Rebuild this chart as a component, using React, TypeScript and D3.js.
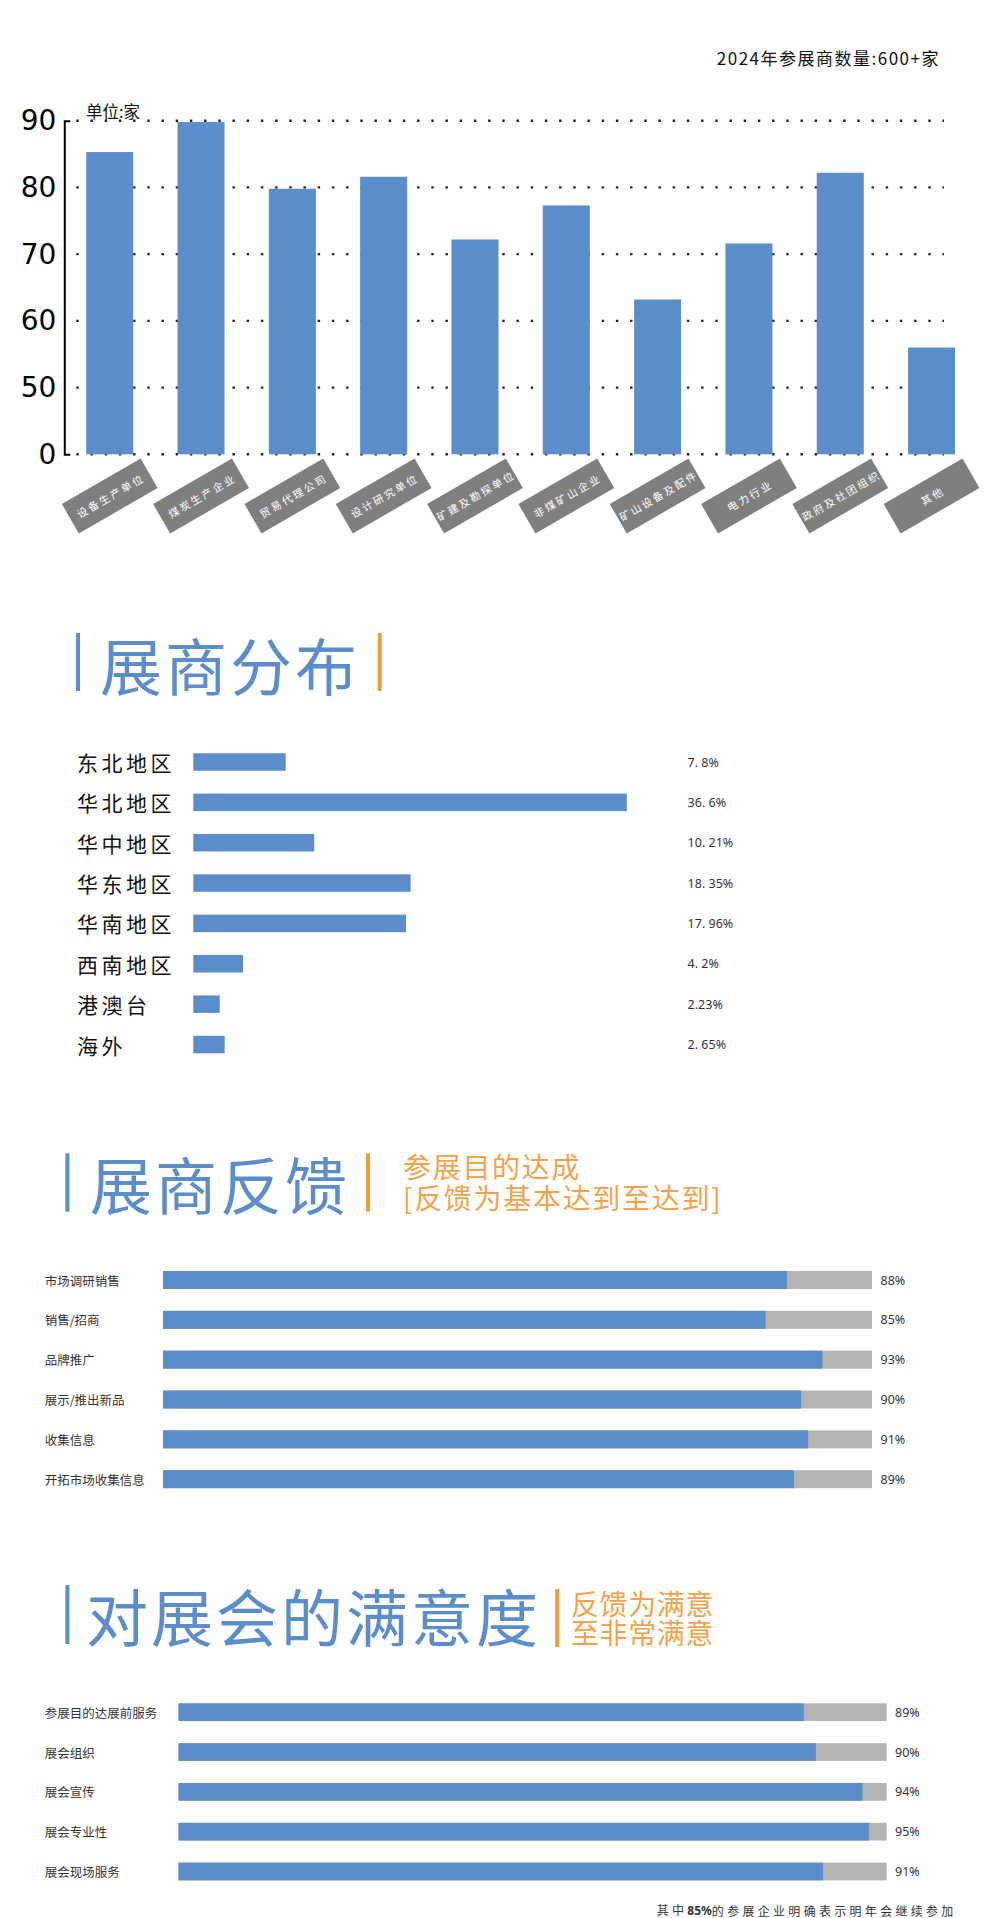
import React, { useEffect, useRef } from 'react';
import * as d3 from 'd3';

// ---------- data ----------
const industryCategories = ['设备生产单位', '煤炭生产企业', '贸易代理公司', '设计研究单位', '矿建及勘探单位', '非煤矿山企业', '矿山设备及配件', '电力行业', '政府及社团组织', '其他'];
const industryValues = [85.3, 89.8, 79.8, 81.6, 72.2, 77.3, 63.2, 71.6, 82.2, 56];
const yTickValues = [40, 50, 60, 70, 80, 90];
const yTickLabels = ['0', '50', '60', '70', '80', '90'];

const regionCategories = ['东北地区', '华北地区', '华中地区', '华东地区', '华南地区', '西南地区', '港澳台', '海外'];
const regionValues = [7.8, 36.6, 10.21, 18.35, 17.96, 4.2, 2.23, 2.65];
const regionLabels = ['7. 8%', '36. 6%', '10. 21%', '18. 35%', '17. 96%', '4. 2%', '2.23%', '2. 65%'];

const feedbackCategories = ['市场调研销售', '销售/招商', '品牌推广', '展示/推出新品', '收集信息', '开拓市场收集信息'];
const feedbackValues = [88, 85, 93, 90, 91, 89];
const feedbackLabels = ['88%', '85%', '93%', '90%', '91%', '89%'];

const satisfactionCategories = ['参展目的达展前服务', '展会组织', '展会宣传', '展会专业性', '展会现场服务'];
const satisfactionValues = [88.3, 90, 96.6, 97.5, 91];
const satisfactionLabels = ['89%', '90%', '94%', '95%', '91%'];

// ---------- style ----------
const BLUE = '#5b8dca';
const GRAY = '#b3b3b3';
const LABEL_GRAY = '#7f7f7f';
const ORANGE = '#f39a3b';
const ORANGE_TEXT = '#f4a249';
const CJK = '"Noto Sans CJK SC", "Noto Sans", sans-serif';

const W = 1001;
const H = 1918;

function SectionTitle({ barX, barY0, barY1, text, textX, cy, orangeX, orangeY0, orangeY1 }: any) {
  return (
    <g>
      <line x1={barX} x2={barX} y1={barY0} y2={barY1} stroke={BLUE} strokeWidth={4} />
      <text x={textX} y={cy} fill={BLUE} fontFamily={CJK} fontSize={62} letterSpacing={3} dominantBaseline="central">{text}</text>
      <line x1={orangeX} x2={orangeX} y1={orangeY0} y2={orangeY1} stroke={ORANGE} strokeWidth={4} />
    </g>
  );
}

function Subtitle({ x, y, lines, gap, spacing }: any) {
  return (
    <text x={x} y={y} fontFamily={CJK} fontSize={28} letterSpacing={spacing} fill={ORANGE_TEXT} dominantBaseline="central">
      {lines.map((l: string, i: number) => (
        <tspan key={i} x={x} dy={i === 0 ? 0 : gap}>{l}</tspan>
      ))}
    </text>
  );
}

function PercentBars({ cats, vals, labels, x0, x1, yTop, yBottom, barH, labelX, pctX }: any) {
  const x = d3.scaleLinear().domain([0, 100]).range([x0, x1]);
  const y = d3.scalePoint<string>().domain(cats).range([yTop, yBottom]);
  return (
    <g>
      {cats.map((c: string, i: number) => {
        const cy = y(c) as number;
        return (
          <g key={c}>
            <text x={labelX} y={cy} fontFamily={CJK} fontSize={12.5} fill="#333" dominantBaseline="central">{c}</text>
            <rect x={x(0)} y={cy - barH / 2} width={x(100) - x(0)} height={barH} fill={GRAY} />
            <rect x={x(0)} y={cy - barH / 2} width={x(vals[i]) - x(0)} height={barH} fill={BLUE} />
            <text x={pctX} y={cy} fontFamily='"Noto Sans", sans-serif' fontSize={12.5} fill="#333" dominantBaseline="central">{labels[i]}</text>
          </g>
        );
      })}
    </g>
  );
}

export default function App() {
  const axisRef = useRef<SVGGElement>(null);

  // column chart scales
  const xBand = d3.scaleBand<string>().domain(industryCategories).range([64.3, 977]).paddingInner(0.485).paddingOuter(0.24);
  const yLin = d3.scaleLinear().domain([40, 90]).range([454.3, 120.7]);

  // region chart scales
  const xReg = d3.scaleLinear().domain([0, 40]).range([193.3, 667.1]);
  const yReg = d3.scalePoint<string>().domain(regionCategories).range([762, 1044.5]);

  useEffect(() => {
    if (!axisRef.current) return;
    const g = d3.select(axisRef.current);
    g.selectAll('*').remove();
    const axis = d3
      .axisLeft(yLin)
      .tickValues(yTickValues)
      .tickFormat((d, i) => yTickLabels[i])
      .tickSizeInner(0)
      .tickSizeOuter(-6)
      .tickPadding(8);
    g.call(axis as any);
    g.select('.domain').attr('stroke', '#000').attr('stroke-width', 2);
    g.selectAll('.tick text')
      .attr('font-family', '"DejaVu Sans", sans-serif')
      .attr('font-size', 28)
      .attr('fill', '#000');
  }, []);

  return (
    <svg width={W} height={H} viewBox={`0 0 ${W} ${H}`} style={{ position: 'absolute', left: 0, top: 0, display: 'block', background: '#fff' }}>
      <rect x={0} y={0} width={W} height={H} fill="#fff" />

      {/* ---- column chart ---- */}
      <text x={940} y={57} textAnchor="end" fontFamily={CJK} fontSize={17} letterSpacing={1.5} fill="#111" dominantBaseline="central">2024年参展商数量:600+家</text>
      <text x={86} y={110.5} fontFamily={CJK} fontSize={16.5} fill="#111" dominantBaseline="central">单位:家</text>

      {yTickValues.map((v) => (
        <line key={v} x1={76.3} x2={944} y1={yLin(v)} y2={yLin(v)} stroke="#222" strokeWidth={2.4} strokeDasharray="2.4 11.8" />
      ))}

      {industryCategories.map((c, i) => (
        <rect key={c} x={xBand(c)} y={yLin(industryValues[i])} width={xBand.bandwidth()} height={yLin(40) - yLin(industryValues[i])} fill={BLUE} />
      ))}

      <g ref={axisRef} transform="translate(64.3,0)" />

      {industryCategories.map((c) => {
        const cx = (xBand(c) as number) + xBand.bandwidth() / 2;
        return (
          <g key={c} transform={`translate(${cx},496) rotate(-30)`}>
            <rect x={-45.5} y={-17} width={91} height={34} fill={LABEL_GRAY} />
            <text x={1} y={0} textAnchor="middle" dominantBaseline="central" fontFamily={CJK} fontSize={10.5} letterSpacing={2.2} fill="#fff">{c}</text>
          </g>
        );
      })}

      {/* ---- section: 展商分布 ---- */}
      <SectionTitle barX={78} barY0={633} barY1={691} text="展商分布" textX={100} cy={664.2} orangeX={379.7} orangeY0={633} orangeY1={691} />

      {regionCategories.map((c, i) => {
        const cy = yReg(c) as number;
        return (
          <g key={c}>
            <text x={77} y={cy} fontFamily={CJK} fontSize={21} letterSpacing={3.5} fill="#111" dominantBaseline="central">{c}</text>
            <rect x={xReg(0)} y={cy - 8.75} width={xReg(regionValues[i]) - xReg(0)} height={17.5} fill={BLUE} />
            <text x={687.6} y={cy} fontFamily='"Noto Sans", sans-serif' fontSize={12.5} fill="#333" dominantBaseline="central">{regionLabels[i]}</text>
          </g>
        );
      })}

      {/* ---- section: 展商反馈 ---- */}
      <SectionTitle barX={67.4} barY0={1153.3} barY1={1211.7} text="展商反馈" textX={90} cy={1183.3} orangeX={368} orangeY0={1153.3} orangeY1={1211.7} />
      <Subtitle x={403} y={1165.8} gap={30.7} spacing={1.7} lines={['参展目的达成', '[反馈为基本达到至达到]']} />

      <PercentBars cats={feedbackCategories} vals={feedbackValues} labels={feedbackLabels} x0={163} x1={872} yTop={1280} yBottom={1479.2} barH={18} labelX={44.7} pctX={880.5} />

      {/* ---- section: 对展会的满意度 ---- */}
      <SectionTitle barX={67.4} barY0={1585} barY1={1644} text="对展会的满意度" textX={86} cy={1615} orangeX={557.2} orangeY0={1589} orangeY1={1647} />
      <Subtitle x={571} y={1603.3} gap={28.4} spacing={0.6} lines={['反馈为满意', '至非常满意']} />

      <PercentBars cats={satisfactionCategories} vals={satisfactionValues} labels={satisfactionLabels} x0={178.5} x1={886.7} yTop={1712.2} yBottom={1871.5} barH={17.7} labelX={44.7} pctX={895} />

      <text x={656.7} y={1909.5} fontFamily={CJK} fontSize={12} letterSpacing={3.3} fill="#333" dominantBaseline="central">
        其中<tspan fontFamily='"Noto Sans", sans-serif' fontWeight="bold" letterSpacing={0}>85%</tspan><tspan letterSpacing={3.3}>的参展企业明确表示明年会继续参加</tspan>
      </text>
    </svg>
  );
}
